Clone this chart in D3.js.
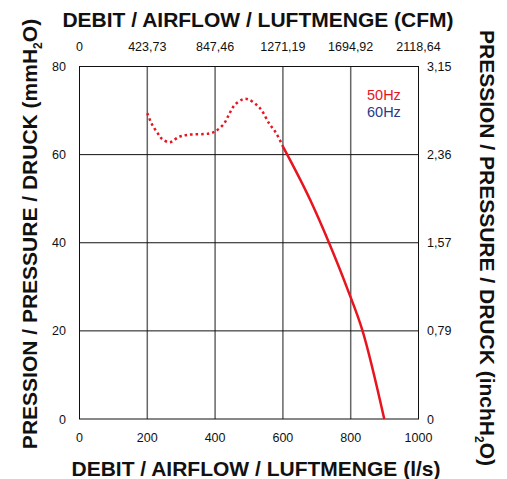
<!DOCTYPE html>
<html>
<head>
<meta charset="utf-8">
<script src="https://cdn.jsdelivr.net/npm/d3@7"></script>
<style>
  body { margin: 0; background: #fff; }
  text { font-family: "Liberation Sans", Arial, sans-serif; fill: #111; }
</style>
</head>
<body>
<svg id="chart" width="507" height="479"></svg>
<script>
// l/s ticks (bottom) and their CFM / inchH2O equivalents
var flowTicks = [0, 200, 400, 600, 800, 1000];
var cfmLabels = ["0", "423,73", "847,46", "1271,19", "1694,92", "2118,64"];
var pressTicks = [0, 20, 40, 60, 80];
var inchLabels = ["0", "0,79", "1,57", "2,36", "3,15"];

// 50Hz curve: unstable zone (dotted) then working zone (solid)
var curveDotted = [[200, 69.4], [213, 67], [232, 64.7], [243, 63.6], [266, 62.8], [293, 64],
  [320, 64.5], [384, 64.8], [401, 65.3], [426, 67], [441, 69.1], [457, 71.2], [483, 72.6],
  [499, 72.5], [525, 71.1], [537, 70.1], [560, 67], [580, 64.9], [601, 61.7]];
var curveSolid = [[601, 61.7], [680, 49.8], [736, 40], [790, 29.6], [835, 20],
  [899, 0]];

var legendNames = ["50Hz", "60Hz"];
var legendColors = ["#e8141e", "#2b3a86"];

var svg = d3.select("#chart");
var plotL = 79.5, plotR = 418.5, plotT = 66.5, plotB = 419;

var x = d3.scaleLinear().domain([0, 1000]).range([plotL, plotR]);
var y = d3.scaleLinear().domain([0, 80]).range([plotB, plotT]);

// grid
var g = svg.append("g");
g.selectAll(".vgrid")
  .data(flowTicks.slice(1, -1))
  .enter().append("line")
  .attr("x1", d => x(d)).attr("x2", d => x(d))
  .attr("y1", plotT).attr("y2", plotB)
  .attr("stroke", "#666").attr("stroke-width", 1.5);
g.selectAll(".hgrid")
  .data(pressTicks.slice(1, -1))
  .enter().append("line")
  .attr("x1", plotL).attr("x2", plotR)
  .attr("y1", d => y(d)).attr("y2", d => y(d))
  .attr("stroke", "#111").attr("stroke-width", 1);
g.append("rect")
  .attr("x", plotL).attr("y", plotT)
  .attr("width", plotR - plotL).attr("height", plotB - plotT)
  .attr("fill", "none").attr("stroke", "#111").attr("stroke-width", 1);

// tick labels
g.selectAll(".bx").data(flowTicks).enter().append("text")
  .attr("x", d => x(d)).attr("y", 442)
  .attr("text-anchor", "middle").attr("font-size", 12.5)
  .text(d => d);
g.selectAll(".tx").data(flowTicks).enter().append("text")
  .attr("x", d => x(d)).attr("y", 51)
  .attr("text-anchor", "middle").attr("font-size", 12.5)
  .text((d, i) => cfmLabels[i]);
g.selectAll(".ly").data(pressTicks).enter().append("text")
  .attr("x", 66).attr("y", d => y(d) + 4.5)
  .attr("text-anchor", "end").attr("font-size", 12.5)
  .text(d => d);
g.selectAll(".ry").data(pressTicks).enter().append("text")
  .attr("x", 427).attr("y", d => y(d) + 4.5)
  .attr("text-anchor", "start").attr("font-size", 12.5)
  .text((d, i) => inchLabels[i]);

// curves
var dottedLine = d3.line()
  .x(d => x(d[0])).y(d => y(d[1]))
  .curve(d3.curveCatmullRom);
var solidLine = d3.line()
  .x(d => x(d[0])).y(d => y(d[1]))
  .curve(d3.curveMonotoneX);
g.append("path").datum(curveDotted)
  .attr("d", dottedLine).attr("fill", "none")
  .attr("stroke", legendColors[0]).attr("stroke-width", 2.5)
  .attr("stroke-dasharray", "2.5,3");
g.append("path").datum(curveSolid)
  .attr("d", solidLine).attr("fill", "none")
  .attr("stroke", legendColors[0]).attr("stroke-width", 2.5);

// legend
g.selectAll(".leg").data(legendNames).enter().append("text")
  .attr("x", 367).attr("y", (d, i) => 100 + i * 17)
  .attr("font-size", 14.5)
  .style("fill", (d, i) => legendColors[i])
  .text(d => d);

// axis titles
g.append("text").attr("x", 258).attr("y", 27)
  .attr("text-anchor", "middle").attr("font-size", 21).attr("font-weight", "bold")
  .text("DEBIT / AIRFLOW / LUFTMENGE (CFM)");
g.append("text").attr("x", 256).attr("y", 476)
  .attr("text-anchor", "middle").attr("font-size", 21).attr("font-weight", "bold")
  .text("DEBIT / AIRFLOW / LUFTMENGE (l/s)");

var lt = g.append("text")
  .attr("transform", "translate(37,234) rotate(-90)")
  .attr("text-anchor", "middle").attr("font-size", 21).attr("font-weight", "bold");
lt.append("tspan").text("PRESSION / PRESSURE / DRUCK (mmH");
lt.append("tspan").attr("font-size", 12).attr("dy", 5).text("2");
lt.append("tspan").attr("dy", -5).text("O)");

var rt = g.append("text")
  .attr("transform", "translate(480,248) rotate(90)")
  .attr("text-anchor", "middle").attr("font-size", 21).attr("font-weight", "bold");
rt.append("tspan").text("PRESSION / PRESSURE / DRUCK (inchH");
rt.append("tspan").attr("font-size", 12).attr("dy", 5).text("2");
rt.append("tspan").attr("dy", -5).text("O)");
</script>
</body>
</html>
